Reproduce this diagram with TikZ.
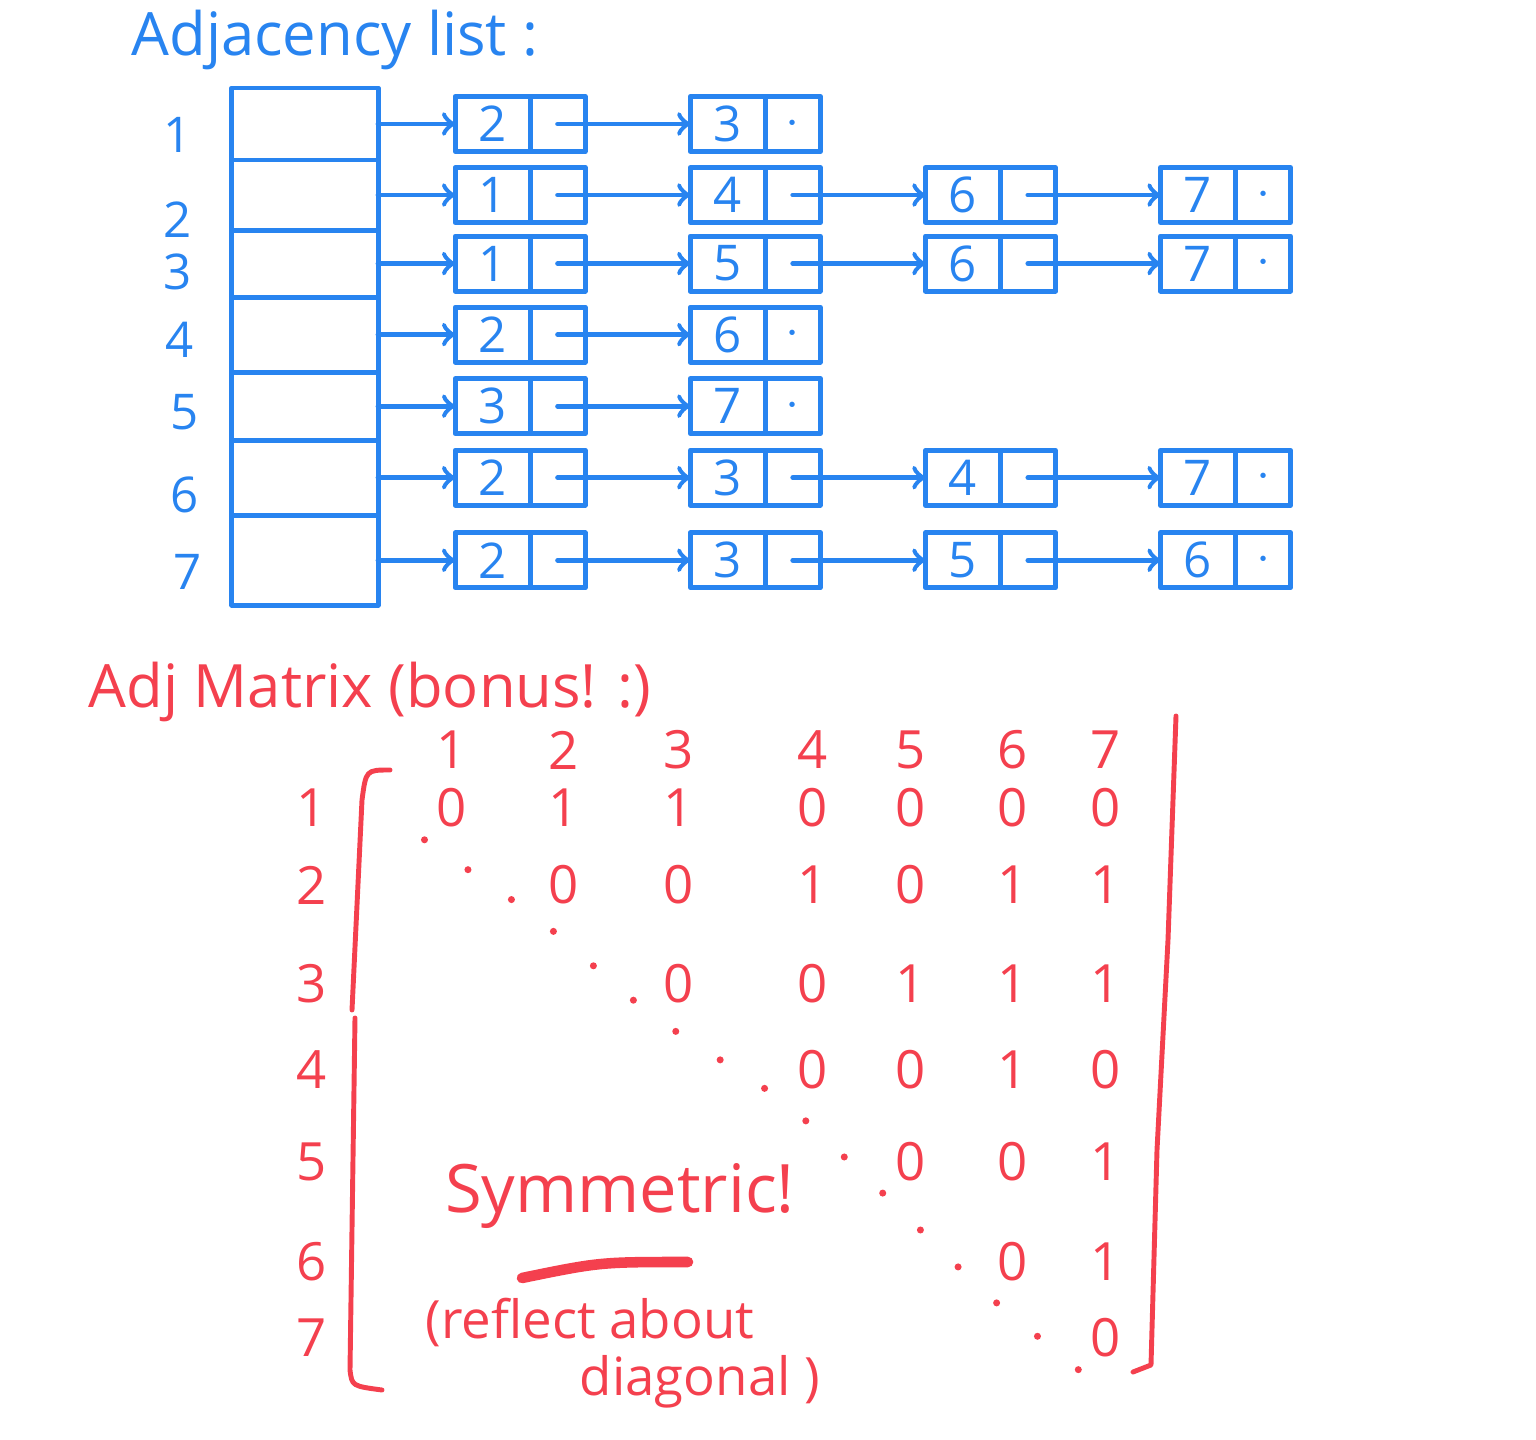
\documentclass[tikz,border=0pt]{standalone}
\usepackage{fontspec}
\setmainfont{Open Sans}
\usetikzlibrary{positioning}

\definecolor{penblue}{RGB}{40,132,240}
\definecolor{penred}{RGB}{244,64,78}

\tikzset{
  arrcell/.style={draw=penblue, line width=1.4pt, minimum width=1.46cm, inner sep=0pt, outer sep=0pt},
  val/.style={draw=penblue, line width=1.4pt, minimum width=0.75cm, minimum height=0.55cm, inner sep=0pt, outer sep=0pt, text=penblue, font=\fontsize{14}{14}\selectfont},
  ptr/.style={val, minimum width=0.55cm},
  link/.style={->, draw=penblue, line width=1.4pt},
  rowlab/.style={text=penblue, font=\fontsize{14}{14}\selectfont},
  entry/.style={text=penred, font=\fontsize{15}{15}\selectfont},
  note/.style={text=penred, font=\fontsize{15}{15}\selectfont},
  diagdots/.style={draw=penred, line width=2pt, dash pattern=on 0pt off 15pt},
  bracket/.style={draw=penred, line width=1.4pt}
}

\begin{document}
\begin{tikzpicture}[x=0.01cm, y=-0.01cm, line cap=round, line join=round]
\useasboundingbox (0,0) rectangle (1536,1440);

% adjacency list
\node[text=penblue, font=\fontsize{17}{17}\selectfont] (title) at (335,40) {Adjacency list :};

\node[arrcell, minimum height=0.72cm] (cell1) at (305,124) {};
\node[arrcell, minimum height=0.70cm, below=0pt of cell1] (cell2) {};
\node[arrcell, minimum height=0.67cm, below=0pt of cell2] (cell3) {};
\node[arrcell, minimum height=0.75cm, below=0pt of cell3] (cell4) {};
\node[arrcell, minimum height=0.68cm, below=0pt of cell4] (cell5) {};
\node[arrcell, minimum height=0.75cm, below=0pt of cell5] (cell6) {};
\node[arrcell, minimum height=0.90cm, below=0pt of cell6] (cell7) {};

\node[rowlab] (lab1) at (178,135) {1};
\node[rowlab] (lab2) at (178,220) {2};
\node[rowlab] (lab3) at (178,272) {3};
\node[rowlab] (lab4) at (180,340) {4};
\node[rowlab] (lab5) at (185,412) {5};
\node[rowlab] (lab6) at (185,495) {6};
\node[rowlab] (lab7) at (188,572) {7};

% 1: 2, 3
\node[val, right=0.77cm of cell1] (v11) {2};
\node[ptr, right=0pt of v11] (p11) {};
\node[val, right=1.05cm of p11] (v12) {3};
\node[ptr, right=0pt of v12] (p12) {$\cdot$};
\draw[link] (cell1) -- (v11);
\draw[link] (p11.center) -- (v12);

% 2: 1, 4, 6, 7
\node[val, right=0.77cm of cell2] (v21) {1};
\node[ptr, right=0pt of v21] (p21) {};
\node[val, right=1.05cm of p21] (v22) {4};
\node[ptr, right=0pt of v22] (p22) {};
\node[val, right=1.05cm of p22] (v23) {6};
\node[ptr, right=0pt of v23] (p23) {};
\node[val, right=1.05cm of p23] (v24) {7};
\node[ptr, right=0pt of v24] (p24) {$\cdot$};
\draw[link] (cell2) -- (v21);
\draw[link] (p21.center) -- (v22);
\draw[link] (p22.center) -- (v23);
\draw[link] (p23.center) -- (v24);

% 3: 1, 5, 6, 7
\node[val, right=0.77cm of cell3] (v31) {1};
\node[ptr, right=0pt of v31] (p31) {};
\node[val, right=1.05cm of p31] (v32) {5};
\node[ptr, right=0pt of v32] (p32) {};
\node[val, right=1.05cm of p32] (v33) {6};
\node[ptr, right=0pt of v33] (p33) {};
\node[val, right=1.05cm of p33] (v34) {7};
\node[ptr, right=0pt of v34] (p34) {$\cdot$};
\draw[link] (cell3) -- (v31);
\draw[link] (p31.center) -- (v32);
\draw[link] (p32.center) -- (v33);
\draw[link] (p33.center) -- (v34);

% 4: 2, 6
\node[val, right=0.77cm of cell4] (v41) {2};
\node[ptr, right=0pt of v41] (p41) {};
\node[val, right=1.05cm of p41] (v42) {6};
\node[ptr, right=0pt of v42] (p42) {$\cdot$};
\draw[link] (cell4) -- (v41);
\draw[link] (p41.center) -- (v42);

% 5: 3, 7
\node[val, right=0.77cm of cell5] (v51) {3};
\node[ptr, right=0pt of v51] (p51) {};
\node[val, right=1.05cm of p51] (v52) {7};
\node[ptr, right=0pt of v52] (p52) {$\cdot$};
\draw[link] (cell5) -- (v51);
\draw[link] (p51.center) -- (v52);

% 6: 2, 3, 4, 7
\node[val, right=0.77cm of cell6] (v61) {2};
\node[ptr, right=0pt of v61] (p61) {};
\node[val, right=1.05cm of p61] (v62) {3};
\node[ptr, right=0pt of v62] (p62) {};
\node[val, right=1.05cm of p62] (v63) {4};
\node[ptr, right=0pt of v63] (p63) {};
\node[val, right=1.05cm of p63] (v64) {7};
\node[ptr, right=0pt of v64] (p64) {$\cdot$};
\draw[link] (cell6) -- (v61);
\draw[link] (p61.center) -- (v62);
\draw[link] (p62.center) -- (v63);
\draw[link] (p63.center) -- (v64);

% 7: 2, 3, 5, 6
\node[val, right=0.77cm of cell7] (v71) {2};
\node[ptr, right=0pt of v71] (p71) {};
\node[val, right=1.05cm of p71] (v72) {3};
\node[ptr, right=0pt of v72] (p72) {};
\node[val, right=1.05cm of p72] (v73) {5};
\node[ptr, right=0pt of v73] (p73) {};
\node[val, right=1.05cm of p73] (v74) {6};
\node[ptr, right=0pt of v74] (p74) {$\cdot$};
\draw[link] (cell7) -- (v71);
\draw[link] (p71.center) -- (v72);
\draw[link] (p72.center) -- (v73);
\draw[link] (p73.center) -- (v74);

% adjacency matrix
\node[text=penred, font=\fontsize{17}{17}\selectfont] (mtitle) at (370,692) {Adj Matrix (bonus! :)};

\foreach \c/\x in {1/452,2/564,3/679,4/813,5/911,6/1013,7/1106}
  \node[entry] (h\c) at (\x,750) {\c};
\foreach \r/\y in {1/808,2/885,3/984,4/1070,5/1162,6/1262,7/1338}
  \node[entry] (rl\r) at (312,\y) {\r};

\foreach \r/\vals in {1/{0,1,1,0,0,0,0}, 2/{0,0,1,0,1,1}, 3/{0,0,1,1,1},
                      4/{0,0,1,0}, 5/{0,0,1}, 6/{0,1}, 7/{0}}
  \foreach \v [count=\k from \r] in \vals
    \node[entry] (m\r\k) at (h\k |- rl\r) {\v};

\draw[diagdots] (m11.south west) -- (m22.south west) -- (m33.south west) -- (m44.south west)
  -- (m55.south west) -- (m66.south west) -- (m77.south west);

% brackets
\draw[bracket] (390,770) .. controls (366,770) .. (362,800) -- (352,1010);
\draw[bracket] (355,1018) -- (350,1370) .. controls (352,1386) .. (382,1390);
\draw[bracket] (1176,716) -- (1168,940) -- (1157,1150) -- (1151,1365) -- (1133,1372);

\node[note, font=\fontsize{19}{19}\selectfont] (sym) at (620,1196) {Symmetric!};
\draw[draw=penred, line width=3pt] (522,1278) .. controls (600,1262) .. (688,1262);
\node[note] (refl) at (590,1322) {(reflect about};
\node[note] (diag) at (700,1382) {diagonal )};
\end{tikzpicture}
\end{document}
